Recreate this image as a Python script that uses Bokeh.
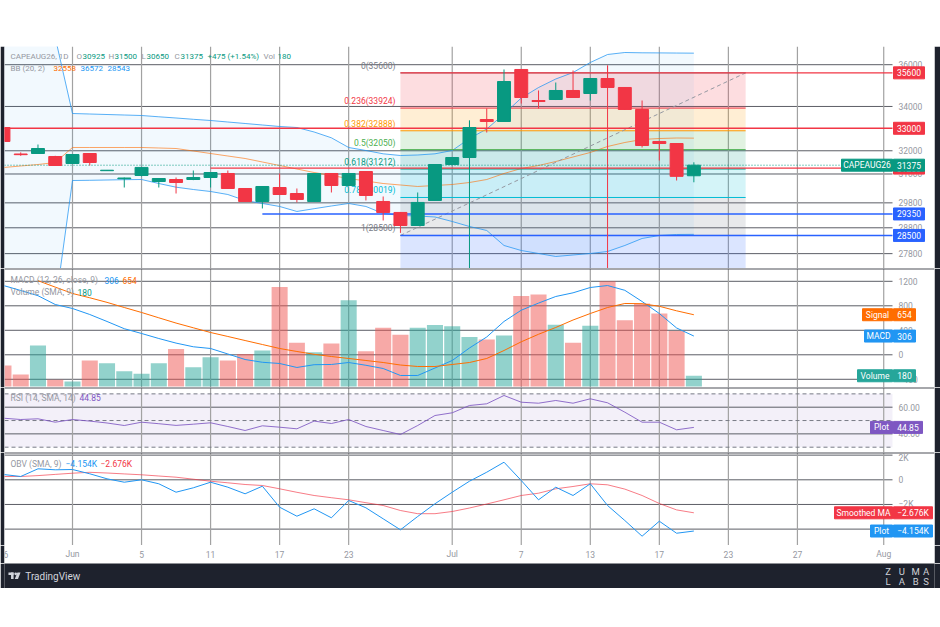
import math
from bokeh.plotting import figure
from bokeh.models import Range1d, Spacer
from bokeh.layouts import column
from bokeh.embed import file_html
from bokeh.resources import INLINE
from bokeh.core.properties import value

NAN = float("nan")

# ---------------- data ----------------
SYMBOL = "CAPEAUG26"
BAR_IDX = list(range(-4, 37))   # trading-day index, 0 = 1 Jun
OPEN = [33035, 31860, 31881, 31751, 31448, 31881, 31140, 30800, 30936, 30683, 30767,
        30767, 30852, 31021, 30391, 29856, 30432, 30183, 29856, 31021, 30516, 31106,
        29856, 29411, 28890, 29897, 31405, 31707, 33399, 33308, 35765, 34278, 34325,
        34751, 34609, 35326, 34895, 33860, 32410, 32319, 30925]
HIGH = [33100, 31930, 32275, 31780, 31860, 31900, 31170, 30850, 31300, 30830, 30852,
        31148, 31080, 31148, 30400, 30490, 31021, 30391, 31040, 31040, 31040, 31120,
        30060, 29430, 30225, 31420, 31720, 33350, 33907, 35765, 35780, 34751, 35133,
        35715, 35340, 35959, 34910, 34278, 32430, 32330, 31500]
LOW = [32350, 31780, 31860, 31340, 31420, 31362, 31130, 30432, 30900, 30432, 30183,
       30740, 30432, 30370, 29840, 29572, 30120, 29816, 29840, 30225, 30500, 29897,
       29089, 28600, 28870, 29880, 31390, 31690, 32809, 33290, 34139, 33907, 34300,
       34400, 34278, 34880, 33840, 32144, 31577, 30725, 30650]
CLOSE = [32410, 31830, 32100, 31362, 31838, 31491, 31160, 30830, 31280, 30809, 30641,
         30852, 31063, 30391, 29856, 30474, 30142, 29938, 31021, 30516, 31021, 30101,
         29411, 28890, 29816, 31405, 31707, 33035, 33308, 35181, 34419, 34231, 34751,
         34419, 35326, 34895, 33860, 32232, 32319, 30900, 31375]
VOLUME = [353, 202, 690, 113, 84, 438, 392, 258, 214, 392, 628, 325, 493, 438, 544,
          606, 1672, 735, 577, 724, 1448, 594, 988, 870, 988, 1032, 1010, 830, 791,
          858, 1520, 1544, 1038, 735, 1021, 1768, 1111, 1392, 1224, 931, 180]
BB_UPPER = [37365, 37365, 37365, 37365, 33674, 33651, 33628, 33605, 33582, 33523, 33468,
            33408, 33354, 33285, 33217, 33149, 33081, 33035, 32833, 32573, 32144, 32012,
            31868, 31794, 31816, 31868, 32012, 32542, 32968, 33651, 34396, 34893, 35302,
            35617, 36108, 36505, 36605, 36590, 36585, 36578, 36572]
BB_BASIS = [31276, 31341, 31405, 31491, 32144, 32144, 32144, 32144, 32144, 32122, 32100,
            31991, 31881, 31772, 31664, 31513, 31362, 31212, 31063, 30936, 30809, 30704,
            30599, 30537, 30474, 30516, 30558, 30641, 30767, 31021, 31233, 31362, 31534,
            31729, 31925, 32188, 32365, 32498, 32542, 32564, 32558]
BB_LOWER = [25862, 25862, 25862, 25862, 30725, 30733, 30746, 30759, 30767, 30599, 30445,
            30349, 30266, 30142, 29896, 29774, 29652, 29450, 29562, 29672, 29774, 29652,
            29369, 29289, 29269, 29229, 29049, 28851, 28694, 28111, 27919, 27805, 27691,
            27748, 27805, 27881, 28111, 28382, 28498, 28537, 28543]
MACD = [1131, 1050, 965, 821, 756, 658, 544, 426, 348, 266, 191, 131, 103, 13, -77,
        -122, -142, -207, -162, -158, -126, -171, -224, -338, -338, -216, -93, 111, 291,
        544, 728, 844, 952, 1012, 1099, 1131, 1053, 870, 674, 438, 306]
SIGNAL = [NAN, NAN, 1210, 1105, 1001, 931, 856, 772, 691, 604, 518, 441, 364, 299, 233,
          168, 103, 54, 8, -28, -60, -93, -126, -167, -191, -191, -158, -126, -60, 70,
          212, 335, 446, 568, 674, 772, 838, 834, 792, 718, 654]
RSI = [51.75, 50.77, 51.3, 48.75, 50.77, 49.57, 48.15, 46.27, 48.75, 47.62, 46.35, 47.25,
       48.3, 45.52, 42.52, 46.05, 45.0, 43.8, 49.57, 47.77, 50.77, 45.52, 42.52, 39.52,
       46.27, 53.77, 55.8, 61.28, 62.55, 68.78, 63.75, 63.0, 65.03, 63.0, 66.3, 63.3,
       56.25, 48.75, 48.75, 43.05, 44.85]
OBV = [430, 268, 892, 811, 835, 487, 81, -195, 0, -324, -1006, -649, -195, -600, -1135,
       -519, -2222, -2952, -2352, -3082, -1679, -2271, -3163, -4055, -2976, -1946, -1006,
       -114, 616, 1427, -57, -1622, -600, -1273, -324, -2084, -3301, -4574, -3358, -4334,
       -4154]
OBV_MA = [268, 268, 341, 438, 535, 608, 551, 478, 406, 308, 211, 49, -114, -243, -381,
          -462, -730, -1014, -1273, -1452, -1622, -1857, -2084, -2490, -2749, -2749, -2571,
          -2287, -1963, -1622, -1273, -1087, -730, -543, -324, -406, -754, -1273, -1922,
          -2441, -2676]

TIME_TICK_IDX = [-4, 0, 4, 8, 12, 16, 22, 26, 30, 34, 38, 42, 47]
TIME_TICK_LABELS = ["26", "Jun", "5", "11", "17", "23", "Jul", "7", "13", "17", "23", "27", "Aug"]
PRICE_TICKS = [36000, 34000, 32000, 31000, 29800, 28800, 27800]
MACD_TICKS = [1200, 800, 400, 0, -400]
RSI_TICKS = [60, 40]
RSI_LEVELS = [70, 50, 30]
OBV_TICKS = [2000, 0, -2000, -4000]

FIB_HIGH, FIB_LOW = 35600, 28500
FIB_LEVELS = [0, 0.236, 0.382, 0.5, 0.618, 0.786, 1, 1.618]
FIB_START, FIB_END = 19, 39
H_LINES = [35600, 33000, 31250, 29350, 28500]
H_LINE_START = [19, -4, 8, 11, 19]
V_LINE_BARS = [23, 31]

# ---------------- style ----------------
FONT = "Roboto"
FS = "8.5px"
W = 940
BL, BR = 4, 6          # dark frame strips left / right
DARK = "#1e222d"
GRID_H = "#5c5e66"
GRID_V = "#a2a2a2"
SEP = "#4e5058"
AX_TXT = "#9598a1"
LEG = "#9598a1"
GREEN = "#089981"
RED = "#f23645"
BLUE = "#2196f3"
ROYAL = "#2962ff"
ORANGE = "#ff6d00"
PURPLE = "#7e57c2"
VOL_GREEN = "#26a69a"
VOL_RED = "#ef5350"
FIB_COLORS = ["#787b86", "#f23645", "#ff9800", "#4caf50", "#089981", "#00bcd4", "#787b86", "#2962ff"]
H_LINE_COLORS = [RED, RED, RED, ROYAL, ROYAL]

BAR_PX = 17.26
X0_PX = 72.0


def ix(px):
    return (px - X0_PX) / BAR_PX


X_START, X_END, PLOT_END = ix(BL), ix(W - BR), ix(892)

PRICE_PANE = (46, 268, 27240, 36907, True)
MACD_PANE = (268, 387, -534, 1409, False)
VOL_RANGE = (-17, 1982)
RSI_PANE = (387, 452, 26.02, 74.78, False)
OBV_PANE = (452, 545, -5328, 2214, False)


def row_val(py, pane):
    top_px, bot_px, lo, hi, is_log = pane
    f = (bot_px - py) / (bot_px - top_px)
    if is_log:
        return math.exp(math.log(lo) + f * (math.log(hi) - math.log(lo)))
    return lo + f * (hi - lo)


def base_fig(height, x_range, y_range, y_type="linear", side=True, bg="white"):
    p = figure(width=W, height=height, x_range=x_range, y_range=y_range, y_axis_type=y_type,
               x_axis_location=None, y_axis_location=None, toolbar_location=None,
               output_backend="svg", title=None, min_border=0,
               min_border_left=BL if side else 0, min_border_right=BR if side else 0,
               min_border_bottom=0, min_border_top=0,
               background_fill_color=bg, border_fill_color=DARK, outline_line_color=None)
    p.grid.visible = False
    return p


def pane_fig(pane):
    top_px, bot_px, lo, hi, is_log = pane
    return base_fig(bot_px - top_px, Range1d(X_START, X_END), Range1d(lo, hi),
                    "log" if is_log else "linear")


def separator(p, pane):
    hi = pane[3]
    p.segment(x0=[X_START], x1=[X_END], y0=[hi], y1=[hi], line_color=SEP, line_width=2.2)


def hgrid(p, ticks):
    p.segment(x0=[X_START] * len(ticks), x1=[PLOT_END] * len(ticks), y0=ticks, y1=ticks,
              line_color=GRID_H, line_width=1)


def vgrid(p, lo, hi):
    n = len(TIME_TICK_IDX)
    p.segment(x0=TIME_TICK_IDX, x1=TIME_TICK_IDX, y0=[lo] * n, y1=[hi] * n,
              line_color=GRID_V, line_width=1.2)


def tick_labels(p, ticks, labels, pane=None):
    ys = list(ticks)
    if pane is not None:          # keep a label that sits on the pane's top edge readable
        y_cap = row_val(pane[0] + 5, pane)
        ys = [min(y, y_cap) for y in ys]
    p.text(x=[ix(898)] * len(ticks), y=ys, text=labels, text_color=AX_TXT,
           text_font=value(FONT), text_font_size=FS, text_align="left", text_baseline="middle")


def tag(p, x0_px, x1_px, y, s, color, **kw):
    cx = ix((x0_px + x1_px) / 2)
    p.rect(x=[cx], y=[y], width=x1_px - x0_px, height=12, width_units="screen",
           height_units="screen", fill_color=color, line_color=color, **kw)
    p.text(x=[cx], y=[y], text=[s], text_color="white", text_font=value(FONT),
           text_font_size=FS, text_align="center", text_baseline="middle", **kw)


def legend(p, pane, py, segments, size=FS):
    y = row_val(py, pane)
    for s, x_px, color in segments:
        p.text(x=[ix(x_px)], y=[y], text=[s], text_color=color, text_font=value(FONT),
               text_font_size=size, text_align="left", text_baseline="middle")


def kfmt(v):
    s = f"{abs(v) / 1000:.3f}K"
    return ("\u2212" + s) if v < 0 else s


candle_col = [GREEN if c >= o else RED for o, c in zip(OPEN, CLOSE)]
vol_col = [VOL_GREEN if c >= o else VOL_RED for o, c in zip(OPEN, CLOSE)]

# ---------------- price pane ----------------
pp = pane_fig(PRICE_PANE)
P_LO, P_HI = PRICE_PANE[2], PRICE_PANE[3]
hgrid(pp, PRICE_TICKS)
vgrid(pp, P_LO, P_HI)

fib_prices = [FIB_HIGH - lv * (FIB_HIGH - FIB_LOW) for lv in FIB_LEVELS]
for i in range(len(FIB_LEVELS) - 1):
    pp.quad(left=[FIB_START], right=[FIB_END], top=[fib_prices[i]], bottom=[fib_prices[i + 1]],
            fill_color=FIB_COLORS[i + 1], fill_alpha=0.17, line_color=None)

pp.varea(x=BAR_IDX, y1=BB_LOWER, y2=BB_UPPER, fill_color=BLUE, fill_alpha=0.06)
pp.line(BAR_IDX, BB_UPPER, line_color=BLUE, line_alpha=0.75, line_width=1)
pp.line(BAR_IDX, BB_LOWER, line_color=BLUE, line_alpha=0.75, line_width=1)
pp.line(BAR_IDX, BB_BASIS, line_color=ORANGE, line_alpha=0.6, line_width=1)

for lv, pr_, col in zip(FIB_LEVELS, fib_prices, FIB_COLORS):
    pp.segment(x0=[FIB_START], x1=[FIB_END], y0=[pr_], y1=[pr_], line_color=col, line_width=1)
    if lv <= 1:
        lbl = f"{lv}({pr_:.0f})"
        pp.text(x=[FIB_START], y=[pr_], text=[lbl], text_color=col, text_font=value(FONT),
                text_font_size=FS, text_align="right", text_baseline="bottom",
                x_offset=-5, y_offset=-2)

pp.line([FIB_START, FIB_END], [FIB_LOW, FIB_HIGH], line_color="#9598a1", line_dash="4 3", line_width=1)

for yv, x0, col in zip(H_LINES, H_LINE_START, H_LINE_COLORS):
    pp.segment(x0=[x0], x1=[PLOT_END], y0=[yv], y1=[yv], line_color=col, line_width=1.4)

for b in V_LINE_BARS:
    k = BAR_IDX.index(b)
    pp.segment(x0=[b], x1=[b], y0=[HIGH[k]], y1=[P_LO], line_color=candle_col[k], line_width=1)

pp.segment(x0=[X_START], x1=[PLOT_END], y0=[CLOSE[-1]], y1=[CLOSE[-1]], line_color=GREEN,
           line_dash="1 2", line_width=1)

pp.segment(x0=BAR_IDX, x1=BAR_IDX, y0=LOW, y1=HIGH, line_color=candle_col, line_width=1)
pp.vbar(x=BAR_IDX, width=0.75, top=[max(o, c) for o, c in zip(OPEN, CLOSE)],
        bottom=[min(o, c) for o, c in zip(OPEN, CLOSE)], fill_color=candle_col,
        line_color=candle_col, line_width=1)

tick_labels(pp, PRICE_TICKS, [str(t) for t in PRICE_TICKS])

chg = CLOSE[-1] - CLOSE[-2]
pct = chg / CLOSE[-2] * 100
legend(pp, PRICE_PANE, 55.7, [
    (f"{SYMBOL}, 1D", 10, LEG),
    ("O", 76, LEG), (str(OPEN[-1]), 82, GREEN),
    ("H", 108, LEG), (str(HIGH[-1]), 114, GREEN),
    ("L", 141, LEG), (str(LOW[-1]), 146, GREEN),
    ("C", 174, LEG), (str(CLOSE[-1]), 180, GREEN),
    (f"{chg:+d} ({pct:+.2f}%)", 207, GREEN),
    ("Vol", 263, LEG), (str(VOLUME[-1]), 277, GREEN),
], size="8px")
legend(pp, PRICE_PANE, 68.3, [
    ("BB (20, 2)", 10, LEG),
    (str(BB_BASIS[-1]), 53, ORANGE),
    (str(BB_UPPER[-1]), 80, BLUE),
    (str(BB_LOWER[-1]), 107, BLUE),
], size="8px")

for yv, col in zip(H_LINES, H_LINE_COLORS):
    tag(pp, 893, 924, yv, str(yv), col)
tag(pp, 841, 892, CLOSE[-1], SYMBOL, GREEN)
tag(pp, 893, 924, CLOSE[-1], str(CLOSE[-1]), GREEN)

# ---------------- MACD / volume pane ----------------
pm = pane_fig(MACD_PANE)
pm.extra_y_ranges = {"vol": Range1d(*VOL_RANGE)}
M_LO, M_HI = MACD_PANE[2], MACD_PANE[3]
hgrid(pm, MACD_TICKS)
vgrid(pm, M_LO, M_HI)
pm.vbar(x=BAR_IDX, width=0.93, top=VOLUME, bottom=0, fill_color=vol_col, fill_alpha=0.5,
        line_color=None, y_range_name="vol")
pm.line(BAR_IDX, MACD, line_color=BLUE, line_width=1)
pm.line(BAR_IDX, SIGNAL, line_color=ORANGE, line_width=1)
tick_labels(pm, MACD_TICKS, [str(t).replace("-", "\u2212") for t in MACD_TICKS])
legend(pm, MACD_PANE, 279.7, [
    ("MACD (12, 26, close, 9)", 10, LEG), (str(MACD[-1]), 104, BLUE), (str(SIGNAL[-1]), 122, ORANGE)])
legend(pm, MACD_PANE, 291.7, [("Volume (SMA, 9)", 10, LEG), (str(VOLUME[-1]), 77, GREEN)])
tag(pm, 862, 892, SIGNAL[-1], "Signal", ORANGE)
tag(pm, 893, 915, SIGNAL[-1], str(SIGNAL[-1]), ORANGE)
tag(pm, 864, 892, MACD[-1], "MACD", BLUE)
tag(pm, 893, 915, MACD[-1], str(MACD[-1]), BLUE)
tag(pm, 857, 892, VOLUME[-1], "Volume", VOL_GREEN, y_range_name="vol")
tag(pm, 893, 915, VOLUME[-1], str(VOLUME[-1]), VOL_GREEN, y_range_name="vol")
separator(pm, MACD_PANE)

# ---------------- RSI pane ----------------
pr = pane_fig(RSI_PANE)
R_LO, R_HI = RSI_PANE[2], RSI_PANE[3]
pr.quad(left=[X_START], right=[PLOT_END], bottom=[min(RSI_LEVELS)], top=[max(RSI_LEVELS)],
        fill_color=PURPLE, fill_alpha=0.09, line_color=None)
hgrid(pr, RSI_TICKS)
vgrid(pr, R_LO, R_HI)
pr.segment(x0=[X_START] * 3, x1=[PLOT_END] * 3, y0=RSI_LEVELS, y1=RSI_LEVELS,
           line_color="#787b86", line_dash="4 3", line_width=1)
pr.line(BAR_IDX, RSI, line_color=PURPLE, line_alpha=0.85, line_width=1)
tick_labels(pr, RSI_TICKS, [f"{t:.2f}" for t in RSI_TICKS])
legend(pr, RSI_PANE, 397.3, [("RSI (14, SMA, 14)", 10, LEG), (f"{RSI[-1]:.2f}", 79, PURPLE)])
tag(pr, 870, 892, RSI[-1], "Plot", PURPLE)
tag(pr, 893, 922, RSI[-1], f"{RSI[-1]:.2f}", PURPLE)
separator(pr, RSI_PANE)

# ---------------- OBV pane ----------------
po = pane_fig(OBV_PANE)
O_LO, O_HI = OBV_PANE[2], OBV_PANE[3]
hgrid(po, OBV_TICKS)
vgrid(po, O_LO, O_HI)
po.line(BAR_IDX, OBV_MA, line_color=RED, line_alpha=0.65, line_width=1)
po.line(BAR_IDX, OBV, line_color=BLUE, line_width=1)
tick_labels(po, OBV_TICKS,
            [("\u2212" if t < 0 else "") + (f"{abs(t) // 1000}K" if t else "0") for t in OBV_TICKS],
            pane=OBV_PANE)
legend(po, OBV_PANE, 463.3, [("OBV (SMA, 9)", 10, LEG), (kfmt(OBV[-1]), 65, BLUE),
                             (kfmt(OBV_MA[-1]), 100, RED)])
tag(po, 834, 892, OBV_MA[-1], "Smoothed MA", RED)
tag(po, 893, 932, OBV_MA[-1], kfmt(OBV_MA[-1]), RED)
tag(po, 870, 892, OBV[-1], "Plot", BLUE)
tag(po, 893, 932, OBV[-1], kfmt(OBV[-1]), BLUE)
separator(po, OBV_PANE)

# ---------------- time axis ----------------
pt = base_fig(18, Range1d(X_START, X_END), Range1d(563, 545))
pt.text(x=TIME_TICK_IDX, y=[553.5] * len(TIME_TICK_IDX), text=TIME_TICK_LABELS,
        text_color=AX_TXT, text_font=value(FONT), text_font_size=FS, text_align="center",
        text_baseline="middle")

# ---------------- dark frame pieces ----------------
band = base_fig(6, Range1d(0, W), Range1d(46, 40), side=False, bg=DARK)
band.scatter([0], [43], size=0, alpha=0)

pf = base_fig(25, Range1d(0, W), Range1d(588, 563), side=False, bg=DARK)
LOGO = "#d1d4dc"
pf.quad(left=[4], right=[9.2], top=[572], bottom=[574.4], fill_color=LOGO, line_color=None)
pf.quad(left=[6.6], right=[9.2], top=[572], bottom=[578.6], fill_color=LOGO, line_color=None)
pf.scatter([11.3], [573.3], size=2.8, fill_color=LOGO, line_color=None)
pf.patch([13.0, 16.2, 13.6, 10.4], [572, 572, 578.6, 578.6], fill_color=LOGO, line_color=None)
pf.text(x=[21], y=[575.6], text=["TradingView"], text_color=LOGO, text_font=value(FONT),
        text_font_size="10px", text_align="left", text_baseline="middle")
for ch, xc in zip("ZUMA", [893, 907, 921, 931.5]):
    pf.text(x=[xc], y=[570.8], text=[ch], text_color="#cfd1d6", text_font=value(FONT),
            text_font_size="9.5px", text_align="center", text_baseline="middle")
for ch, xc in zip("LABS", [893, 907, 921, 931.5]):
    pf.text(x=[xc], y=[581.0], text=[ch], text_color="#cfd1d6", text_font=value(FONT),
            text_font_size="9.5px", text_align="center", text_baseline="middle")

layout = column(Spacer(width=W, height=40), band, pp, pm, pr, po, pt, pf, spacing=0)
open("out.html", "w").write(file_html(layout, INLINE))
